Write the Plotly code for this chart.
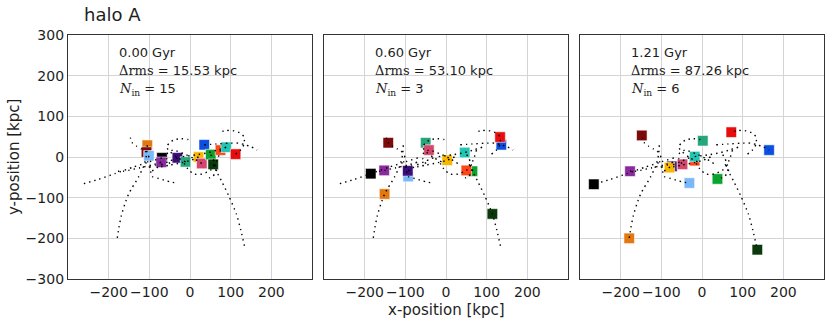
import plotly.graph_objects as go

# satellites (colour order shared by every list below)
sat_colors = ['#e2780f', '#7d0a0a', '#7ab8f8', '#000000', '#8a2a9e',
              '#3a0c7c', '#26a67c', '#f7b700', '#d4466e', '#0c4fe0',
              '#0aa42c', '#0a3a0c', '#ff4616', '#22c4b2', '#e80c0c']

# square positions at the three snapshots [kpc]
x_t000 = [-105, -107, -101, -69, -71, -31, -11, 21, 29, 35, 51, 57, 75, 89, 112]
y_t000 = [29, 12, 3, -2, -13, -2, -12, 0, -16, 30, 6, -18, 17, 24, 7]
x_t060 = [-151, -142, -93, -185, -152, -94, -50, 3, -42, 136, 65, 114, 50, 46, 133]
y_t060 = [-91, 35, -48, -41, -33, -34, 35, -8, 17, 30, -35, -140, -33, 11, 49]
x_t121 = [-179, -148, -31, -266, -177, -74, 2, -80, -48, 165, 38, 136, -18, -18, 72]
y_t121 = [-200, 53, -64, -67, -35, -23, 40, -26, -18, 17, -54, -228, -9, 1, 61]

# orbit tracks, t=0 -> 1.21 Gyr
trk_orange = [(-105, 29), (-107, 5), (-113, -20), (-127, -50), (-142, -75), (-151, -91),
              (-160, -115), (-169, -145), (-175, -175), (-179, -200)]
trk_maroon = [(-107, 12), (-120, 20), (-132, 27), (-142, 35), (-146, 45), (-148, 53)]
trk_lightblue = [(-101, 3), (-104, -12), (-98, -30), (-93, -48), (-80, -52), (-60, -58),
                 (-45, -62), (-31, -64)]
trk_black = [(-69, -2), (-100, -12), (-140, -25), (-185, -41), (-225, -55), (-266, -67)]
trk_violet = [(-71, -13), (-95, -20), (-125, -27), (-152, -33), (-165, -35), (-177, -35)]
trk_indigo = [(-31, -2), (-50, -10), (-72, -20), (-94, -34), (-98, -25), (-85, -20), (-74, -23)]
trk_tealgreen = [(-11, -12), (-30, -2), (-48, 12), (-58, 25), (-50, 35), (-40, 42),
                 (-22, 45), (-5, 43), (2, 40)]
trk_yellow = [(21, 0), (3, -8), (-20, -14), (-50, -20), (-80, -26)]
trk_pink = [(29, -16), (10, -4), (-15, 8), (-42, 17), (-55, 10), (-57, -5), (-48, -18)]
trk_blue = [(35, 30), (65, 32), (95, 34), (120, 34), (136, 30), (150, 25), (165, 17)]
trk_green = [(51, 6), (60, -12), (65, -35), (55, -48), (38, -54)]
trk_darkgreen = [(57, -18), (65, -35), (78, -60), (95, -95), (114, -140), (125, -180), (136, -228)]
trk_orangered = [(75, 17), (68, -5), (58, -25), (50, -33), (30, -42), (10, -42), (-5, -30), (-18, -9)]
trk_turquoise = [(89, 24), (70, 18), (46, 11), (20, 6), (-18, 1)]
trk_red = [(112, 7), (125, 18), (133, 32), (133, 49), (125, 58), (105, 65), (88, 65), (72, 61)]

tracks = [trk_orange, trk_maroon, trk_lightblue, trk_black, trk_violet, trk_indigo,
          trk_tealgreen, trk_yellow, trk_pink, trk_blue, trk_green, trk_darkgreen,
          trk_orangered, trk_turquoise, trk_red]

times = ['0.00 Gyr', '0.60 Gyr', '1.21 Gyr']
drms = ['15.53', '53.10', '87.26']
n_in = ['15', '3', '6']
snaps = [(x_t000, y_t000), (x_t060, y_t060), (x_t121, y_t121)]

W = 830
L, R, T, B = 68, 6, 35, 46
pw = W - L - R
domains = [[0, 244 / pw], [256 / pw, 500 / pw], [512 / pw, 1]]

fig = go.Figure()
TXT = '#1e1e1e'
SERIF = 'DejaVu Serif'

for i in range(3):
    xa = 'x' if i == 0 else 'x%d' % (i + 1)
    ya = 'y' if i == 0 else 'y%d' % (i + 1)
    sx, sy = snaps[i]
    fig.add_trace(go.Scatter(
        x=sx, y=sy, xaxis=xa, yaxis=ya, mode='markers', showlegend=False,
        marker=dict(symbol='square', size=10.5, color=sat_colors,
                    line=dict(color='rgba(255,255,255,0.55)', width=1)),
    ))
    for trk in tracks:
        fig.add_trace(go.Scatter(
            x=[p[0] for p in trk], y=[p[1] for p in trk], xaxis=xa, yaxis=ya,
            mode='lines', showlegend=False, hoverinfo='skip',
            line=dict(color='black', width=1.4, dash='1.4px,4px', shape='spline', smoothing=0.6),
        ))

    axis_common = dict(range=[-300, 300], showgrid=True, gridcolor='#d4d4d4', gridwidth=1,
                       zeroline=False, showline=True, mirror=True, linecolor='#333333',
                       linewidth=1.3, ticks='', automargin=False,
                       tickfont=dict(family='DejaVu Sans', size=14, color=TXT))
    fig.layout['xaxis' if i == 0 else 'xaxis%d' % (i + 1)] = dict(
        axis_common, domain=domains[i], anchor=ya, tickvals=[-200, -100, 0, 100, 200])
    fig.layout['yaxis' if i == 0 else 'yaxis%d' % (i + 1)] = dict(
        axis_common, domain=[0, 1], anchor=xa, tickvals=[-300, -200, -100, 0, 100, 200, 300],
        showticklabels=(i == 0))

    xd = xa + ' domain'
    yd = ya + ' domain'
    lines = [
        times[i],
        '<span style="font-family:%s">Δrms</span> = %s kpc' % (SERIF, drms[i]),
        '<span style="font-family:%s"><i>N</i><sub>in</sub></span> = %s' % (SERIF, n_in[i]),
    ]
    for k, txt in enumerate(lines):
        fig.add_annotation(text=txt, xref=xd, yref=yd, x=0.2, y=0.93 - k * 0.077,
                           xanchor='left', yanchor='middle', showarrow=False,
                           font=dict(family='DejaVu Sans', size=13, color=TXT))

fig.add_annotation(text='halo A', xref='paper', yref='paper', x=(82 - L) / pw, y=1 + 20 / 244,
                   xanchor='left', yanchor='middle', showarrow=False,
                   font=dict(family='DejaVu Sans', size=18, color=TXT))
fig.add_annotation(text='x-position [kpc]', xref='paper', yref='paper', x=(446 - L) / pw,
                   y=-31 / 244, xanchor='center', yanchor='middle', showarrow=False,
                   font=dict(family='DejaVu Sans', size=15, color=TXT))
fig.add_annotation(text='y-position [kpc]', xref='paper', yref='paper', x=-54 / pw,
                   y=0.5, xanchor='center', yanchor='middle', textangle=-90, showarrow=False,
                   font=dict(family='DejaVu Sans', size=15, color=TXT))

fig.update_layout(width=W, height=325, margin=dict(l=L, r=R, t=T, b=B, autoexpand=False),
                  plot_bgcolor='white', paper_bgcolor='white')

fig.write_html('out.html', config={'displayModeBar': False},
               post_script="document.body.style.margin='0';")
